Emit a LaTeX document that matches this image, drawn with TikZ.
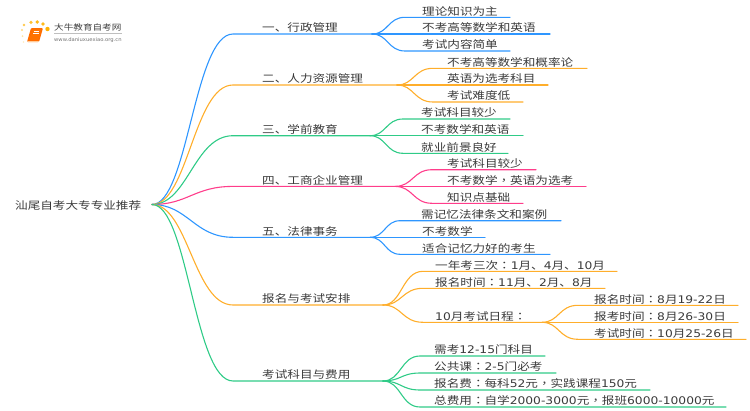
\documentclass[tikz,border=0pt]{standalone}
\usepackage{fontspec}
\setmainfont{Noto Sans CJK SC}
\newfontfamily\cjk[FakeStretch=1.2]{Noto Sans CJK SC}
\newfontfamily\tcf[FakeStretch=1.2]{Noto Sans CJK TC}
\newfontfamily\latn[FakeStretch=1.17]{DejaVu Sans}
\newfontfamily\latnb[FakeStretch=1.05]{DejaVu Sans}
\newcommand{\nm}[1]{{\latn #1}}
\newcommand{\cl}{{\tcf ：}}
\newcommand{\cm}{{\tcf ，}}
\definecolor{cblue}{HTML}{2E96FF}
\definecolor{corange}{HTML}{FFAE2B}
\definecolor{cgreen}{HTML}{2FCB87}
\definecolor{cpink}{HTML}{FF3D8B}
\definecolor{ctext}{HTML}{3A3A3A}
\tikzset{
  lab/.style={inner sep=0pt,anchor=base west,text=ctext,font=\fontsize{10.5pt}{12pt}\cjk},
  conn/.style={line width=1.1pt,line cap=round},
}
% \branch{id}{colour}{y}{hub x}{hub mid x}{label}
\newcommand{\branch}[6]{
  \coordinate (#1s) at (233,#3);
  \coordinate (#1) at (#4,#3);
  \coordinate (#1m) at (#5,#3);
  \node[lab] (#1t) at (262,#3-2.2) {#6};
  \draw[conn,#2] (root) .. controls (rootm |- root) and (rootm2 |- #1s) .. (#1s) -- (#1);
}
% \leaf{id}{hub}{colour}{curve end x}{line end x}{y}{text x}{text}
\newcommand{\leaf}[8]{
  \coordinate (#1s) at (#4,#6);
  \coordinate (#1e) at (#5,#6);
  \node[lab] (#1t) at (#7,#6-2.2) {#8};
  \draw[conn,#3] (#2) .. controls (#2m |- #2) and (#2m |- #1s) .. (#1s) -- (#1e);
}
\begin{document}
\begin{tikzpicture}[x=1pt,y=-1pt]
\useasboundingbox (0,0) rectangle (750,410);
% logo
\fill[orange!60!yellow,opacity=.7] (24,25) circle (1.4);
\fill[orange!60!yellow,opacity=.8] (31,22.3) circle (1.8);
\fill[orange!60!yellow,opacity=.9] (37.3,22) circle (1.9);
\fill[orange!60!yellow,opacity=.9] (43,24) circle (1.8);
\fill[orange!60!yellow] (47.5,29) circle (2.2);
\fill[orange!60!yellow,opacity=.5] (22,30) circle (1.2);
\fill[orange!60!yellow,opacity=.35] (22.5,36) circle (1);
\fill[orange!60!yellow,opacity=.25] (23.5,42) circle (.9);
\fill[rounded corners=1pt,orange!85!red] (31,28) -- (43,28) -- (39,42) -- (27,42) -- cycle;
\fill[rounded corners=1pt,orange!90!red] (33,29) -- (41.5,29) -- (38.5,40) -- (29,40) -- cycle;
\draw[white,line width=.5pt] (33.5,31.5) -- (39,31.5) (33,33.5) -- (38.5,33.5);
\draw[orange!40!white,line width=.6pt] (28,41) -- (38.6,41);
\node[inner sep=0pt,anchor=base west,text=black!75,font=\fontsize{8pt}{9pt}\cjk] (logot) at (54,30.5) {大牛教育自考网};
\coordinate (logola) at (54,33.3);
\coordinate (logolb) at (122,33.3);
\draw[black!25,line width=.5pt] (logola) -- (logolb);
\node[inner sep=0pt,anchor=base west,text=black!55,font=\fontsize{5pt}{6pt}\latnb] (logou) at (54,41) {www.daniuxuexiao.org.cn};
% root
\node[lab] (roott) at (15,209) {汕尾自考大专专业推荐};
\coordinate (root) at (152,204.5);
\coordinate (rootm) at (188,204.5);
\coordinate (rootm2) at (194,204.5);
% branches
\branch{a}{cblue}{34}{372}{388}{一、行政管理}
\branch{b}{corange}{85}{397}{414}{二、人力资源管理}
\branch{c}{cgreen}{135.7}{370}{386}{三、学前教育}
\branch{d}{cpink}{186.4}{395}{413}{四、工商企业管理}
\branch{e}{cblue}{237.3}{370}{385}{五、法律事务}
\branch{f}{corange}{305}{383}{402}{报名与考试安排}
\branch{g}{cgreen}{381}{383}{401}{考试科目与费用}
% leaves
\leaf{a1}{a}{cblue}{405}{510}{17.3}{422}{理论知识为主}
\leaf{a2}{a}{cblue}{405}{550}{34}{422}{不考高等数学和英语}
\leaf{a3}{a}{cblue}{405}{510}{51}{422}{考试内容简单}
\leaf{b1}{b}{corange}{433}{587}{68.3}{447}{不考高等数学和概率论}
\leaf{b2}{b}{corange}{433}{548}{85}{447}{英语为选考科目}
\leaf{b3}{b}{corange}{433}{523}{102}{447}{考试难度低}
\leaf{c1}{c}{cgreen}{403}{510}{119}{421}{考试科目较少}
\leaf{c2}{c}{cgreen}{403}{523}{135.7}{421}{不考数学和英语}
\leaf{c3}{c}{cgreen}{403}{508}{153.3}{421}{就业前景良好}
\leaf{d1}{d}{cpink}{432}{536}{169.7}{447}{考试科目较少}
\leaf{d2}{d}{cpink}{432}{586}{186.4}{447}{不考数学\cm 英语为选考}
\leaf{d3}{d}{cpink}{432}{523}{203.3}{447}{知识点基础}
\leaf{e1}{e}{cblue}{400}{561}{220.7}{421}{需记忆法律条文和案例}
\leaf{e2}{e}{cblue}{400}{485}{237.3}{422}{不考数学}
\leaf{e3}{e}{cblue}{400}{550}{254.3}{422}{适合记忆力好的考生}
\leaf{f1}{f}{corange}{423}{617}{271.3}{435}{一年考三次\cl\nm{1}月、\nm{4}月、\nm{10}月}
\leaf{f2}{f}{corange}{423}{605}{288.3}{435}{报名时间\cl\nm{11}月、\nm{2}月、\nm{8}月}
\leaf{f3}{f}{corange}{423}{542}{322.3}{435}{\nm{10}月考试日程\cl}
\coordinate (f3em) at (559,322.3);
\leaf{h1}{f3e}{corange}{578}{738}{305.3}{594}{报名时间\cl\nm{8}月\nm{19-22}日}
\leaf{h2}{f3e}{corange}{578}{738}{322.3}{594}{报考时间\cl\nm{8}月\nm{26-30}日}
\leaf{h3}{f3e}{corange}{578}{746}{339.3}{594}{考试时间\cl\nm{10}月\nm{25-26}日}
\leaf{g1}{g}{cgreen}{420}{545}{356}{434}{需考\nm{12-15}门科目}
\leaf{g2}{g}{cgreen}{420}{556}{373}{434}{公共课\cl\nm{2-5}门必考}
\leaf{g3}{g}{cgreen}{420}{650}{390}{434}{报名费\cl 每科\nm{52}元\cm 实践课程\nm{150}元}
\leaf{g4}{g}{cgreen}{420}{726}{407}{434}{总费用\cl 自学\nm{2000-3000}元\cm 报班\nm{6000-10000}元}
\end{tikzpicture}
\end{document}
